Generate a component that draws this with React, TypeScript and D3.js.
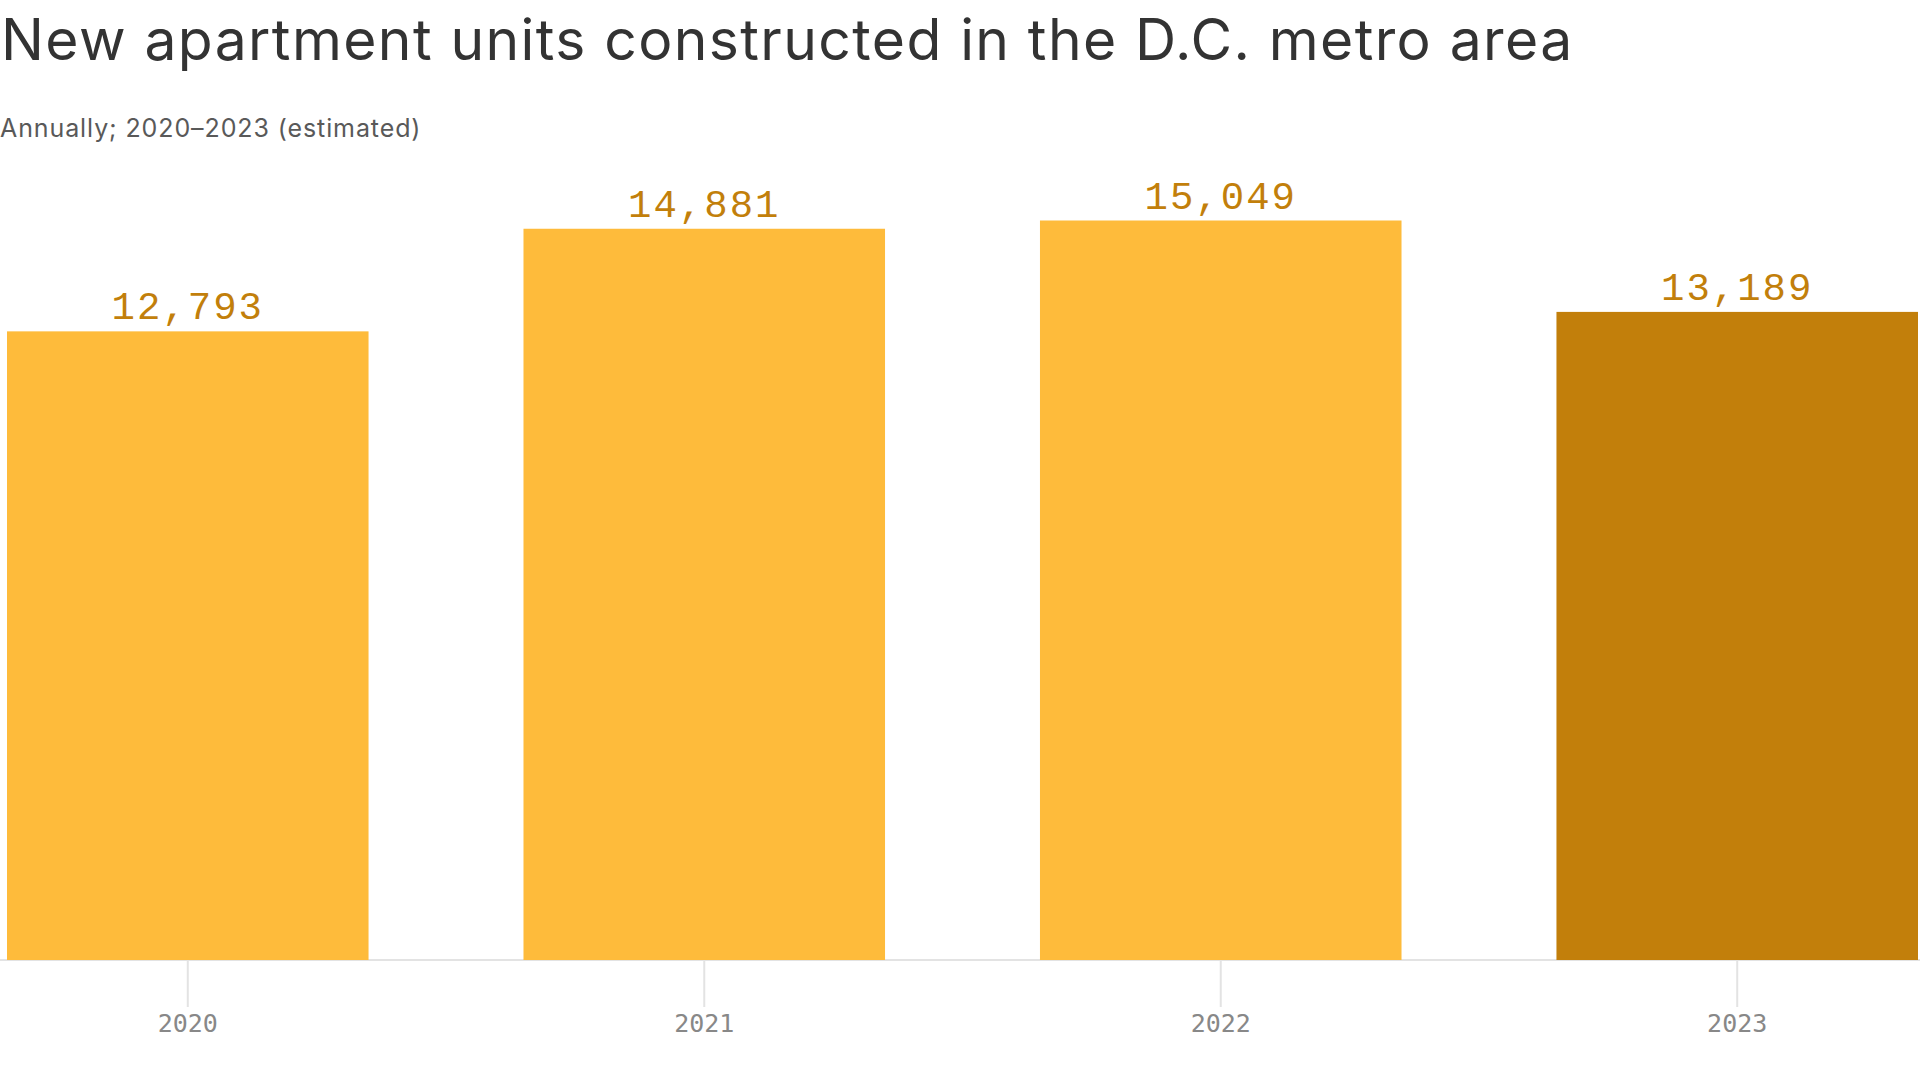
import React, { useEffect } from "react";
import * as d3 from "d3";

const years = ["2020", "2021", "2022", "2023"];
const units = [12793, 14881, 15049, 13189];
const estimated = [false, false, false, true];

const W = 1920;
const H = 1080;

export default function App() {
  useEffect(() => {
    document.body.style.margin = "0";
  }, []);

  const x = d3.scaleBand<string>().domain(years).range([7, 1918]).paddingInner(0.3).paddingOuter(0);
  const y = d3.scaleLinear().domain([0, d3.max(units) as number]).range([960, 220.5]);
  const fmt = d3.format(",");

  return (
    <svg width={W} height={H} style={{ display: "block", background: "#fff" }}>
      <text x={1} y={60} fontFamily="Inter, 'Noto Sans', sans-serif" fontSize={57} fill="#333" letterSpacing={1.4}>
        New apartment units constructed in the D.C. metro area
      </text>
      <text x={0} y={137} fontFamily="Inter, 'Noto Sans', sans-serif" fontSize={25} fill="#595959" letterSpacing={0.9}>
        Annually; 2020–2023 (estimated)
      </text>
      <line x1={0} x2={W} y1={960} y2={960} stroke="#e3e3e3" strokeWidth={2} />
      {years.map((yr, i) => {
        const cx = (x(yr) as number) + x.bandwidth() / 2;
        return (
          <g key={yr}>
            <rect
              x={x(yr)}
              y={y(units[i])}
              width={x.bandwidth()}
              height={y(0) - y(units[i])}
              fill={estimated[i] ? "#c27f0b" : "#febb3b"}
            />
            <text
              x={cx}
              y={y(units[i]) - 12}
              textAnchor="middle"
              fontFamily="'Liberation Mono', monospace"
              fontSize={39}
              letterSpacing={2}
              fill="#c27f0b"
            >
              {fmt(units[i])}
            </text>
            <line x1={cx} x2={cx} y1={961} y2={1007} stroke="#e3e3e3" strokeWidth={2} />
            <text
              x={cx}
              y={1032}
              textAnchor="middle"
              fontFamily="'DejaVu Sans Mono', monospace"
              fontSize={25}
              fill="#888"
            >
              {yr}
            </text>
          </g>
        );
      })}
    </svg>
  );
}
